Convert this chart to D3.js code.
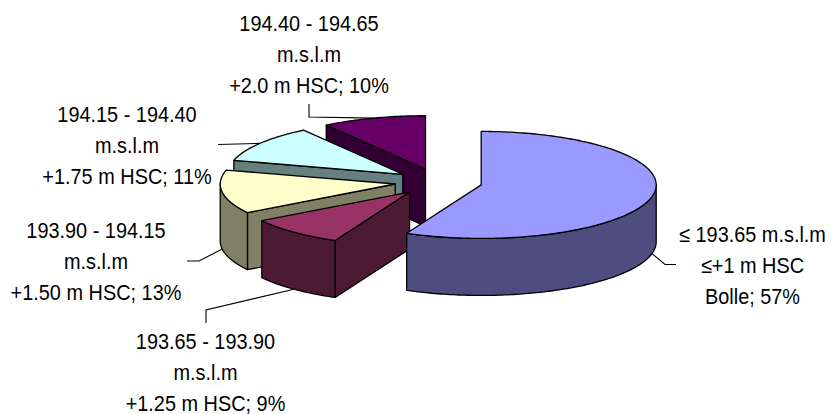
<!DOCTYPE html>
<html><head><meta charset="utf-8">
<script src="https://cdn.jsdelivr.net/npm/d3@7"></script>
<style>html,body{margin:0;padding:0;background:#fff}svg{display:block}text{font-family:"Liberation Sans",Arial,sans-serif;fill:#000}</style>
</head><body><svg id="c" width="833" height="414"></svg>
<script>
// Data
const categories = ["≤ 193.65 m.s.l.m|≤+1 m HSC|Bolle","193.65 - 193.90|m.s.l.m|+1.25 m HSC","193.90 - 194.15|m.s.l.m|+1.50 m HSC","194.15 - 194.40|m.s.l.m|+1.75 m HSC","194.40 - 194.65|m.s.l.m|+2.0 m HSC"];
const values = [57, 9, 13.2, 11.2, 9.6];
// Style
const topColors = ["#9999FF","#993366","#FFFFCC","#CCFFFF","#660066"];
const sideColors = ["#4D4D80","#4D1A33","#808066","#668080","#330033"];
// Layout
const cx = 438.5, cy = 182, rx = 175, ry = 53.5, depth = 57, explode = 0.25, fontSize = 19.9, stretchY = 1.1, lineStep = 31;
const labelAnchor = [[752.5,242],[205.5,349],[96,238],[127,122],[309,30.5]];
const leaderElbows = [[[676,264.5],[665,264.5]],[[206,323],[206,310]],[[187,261],[199,261]],[[218,144.5]],[[309,104],[309,117]]];
const leaderOnWall = [true,true,true,false,false];
const drawOrder = [4,3,2,1,0];

const svg = d3.select("#c");
const arcs = d3.pie().sort(null).startAngle(0).endAngle(2*Math.PI)(values);
const pt = (ox,oy,a,r=1,dz=0)=>[ox+rx*r*Math.sin(a), oy-ry*r*Math.cos(a)+dz];
const line = d3.line();
const origin = d=>{const m=(d.startAngle+d.endAngle)/2;return pt(cx,cy,m,explode);};
const step = Math.PI/180;
function arcPts(ox,oy,a0,a1,dz=0){
  const n=Math.max(2,Math.ceil(Math.abs(a1-a0)/step));
  return d3.range(n+1).map(i=>pt(ox,oy,a0+(a1-a0)*i/n,1,dz));
}
const g = svg.append("g");
function face(points,fill){
  g.append("path").attr("d",line(points)+"Z").attr("fill",fill).attr("stroke","#000").attr("stroke-width",1.3).attr("stroke-linejoin","round");
}
drawOrder.forEach(i=>{
  const d=arcs[i],[ox,oy]=origin(d),a0=d.startAngle,a1=d.endAngle;
  const side=sideColors[i];
  if(Math.sin(a0)<-1e-6){const p=pt(ox,oy,a0);face([[ox,oy],p,[p[0],p[1]+depth],[ox,oy+depth]],side);}
  if(Math.sin(a1)>1e-6){const p=pt(ox,oy,a1);face([[ox,oy],p,[p[0],p[1]+depth],[ox,oy+depth]],side);}
  const s=Math.max(a0,Math.PI/2),e=Math.min(a1,3*Math.PI/2);
  if(e>s){face(arcPts(ox,oy,s,e).concat(arcPts(ox,oy,e,s,depth)),side);}
  face([[ox,oy]].concat(arcPts(ox,oy,a0,a1)),topColors[i]);
});
// Leaders
arcs.forEach((d,i)=>{
  const m=(d.startAngle+d.endAngle)/2,[ox,oy]=origin(d);
  const end=pt(ox,oy,m,1,leaderOnWall[i]?depth:0);
  svg.append("path").attr("d",line(leaderElbows[i].concat([end]))).attr("fill","none").attr("stroke","#000").attr("stroke-width",1.1);
});
// Labels
arcs.forEach((d,i)=>{
  const parts=categories[i].split("|");
  parts[2]+="; "+Math.round(values[i])+"%";
  parts.forEach((s,k)=>svg.append("text")
    .attr("text-anchor","middle").attr("font-size",fontSize)
    .attr("transform",`translate(${labelAnchor[i][0]},${labelAnchor[i][1]+k*lineStep}) scale(1,${stretchY})`)
    .text(s));
});
</script></body></html>
